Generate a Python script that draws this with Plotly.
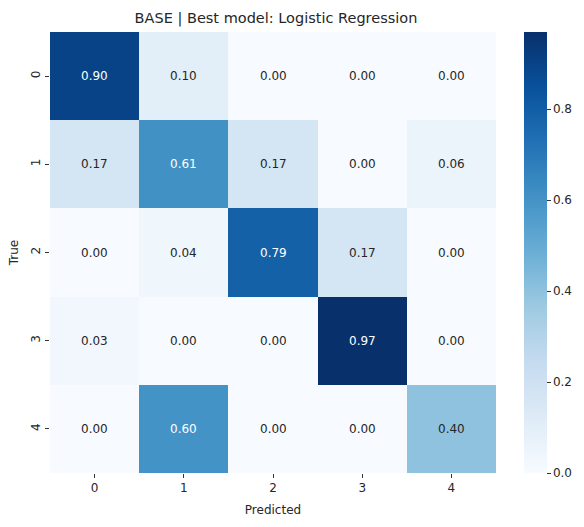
import plotly.graph_objects as go
import plotly.express as px

# Confusion matrix (row-normalised) for the best base model
classes = ["0", "1", "2", "3", "4"]
matrix = [
    [0.90, 0.10, 0.00, 0.00, 0.00],
    [0.17, 0.61, 0.17, 0.00, 0.06],
    [0.00, 0.04, 0.79, 0.17, 0.00],
    [0.03, 0.00, 0.00, 0.97, 0.00],
    [0.00, 0.60, 0.00, 0.00, 0.40],
]
cbar_ticks = [0.0, 0.2, 0.4, 0.6, 0.8]

blues = px.colors.sequential.Blues
zmin = min(min(r) for r in matrix)
zmax = max(max(r) for r in matrix)
FONT = "DejaVu Sans"


def parse_rgb(s):
    return [int(v) for v in s[s.index("(") + 1:s.index(")")].split(",")]


def colour_at(v):
    t = (v - zmin) / (zmax - zmin)
    n = len(blues) - 1
    i = min(int(t * n), n - 1)
    f = t * n - i
    a, b = parse_rgb(blues[i]), parse_rgb(blues[i + 1])
    return [a[k] + (b[k] - a[k]) * f for k in range(3)]


def luminance(rgb):
    def lin(c):
        c = c / 255
        return c / 12.92 if c <= 0.03928 else ((c + 0.055) / 1.055) ** 2.4
    r, g, b = (lin(c) for c in rgb)
    return 0.2126 * r + 0.7152 * g + 0.0722 * b


fig = go.Figure(
    go.Heatmap(
        z=matrix,
        x=classes,
        y=classes,
        colorscale=[[i / (len(blues) - 1), c] for i, c in enumerate(blues)],
        zmin=zmin,
        zmax=zmax,
        xgap=0,
        ygap=0,
        colorbar=dict(
            tickvals=cbar_ticks,
            ticktext=[f"{v:.1f}" for v in cbar_ticks],
            ticks="outside",
            ticklen=4,
            tickcolor="#333333",
            tickfont=dict(family=FONT, size=12, color="#262626"),
            outlinewidth=0,
            thickness=23,
            len=1.0,
            lenmode="fraction",
            x=1.062,
            xanchor="left",
            y=0.5,
            yanchor="middle",
            xpad=0,
            ypad=0,
        ),
        hoverinfo="skip",
    )
)

annotations = []
for i, row in enumerate(matrix):
    for j, v in enumerate(row):
        colour = "white" if luminance(colour_at(v)) < 0.408 else "#262626"
        annotations.append(
            dict(
                x=classes[j],
                y=classes[i],
                text=f"{v:.2f}",
                showarrow=False,
                font=dict(family=FONT, size=12, color=colour),
            )
        )

fig.update_layout(
    width=584,
    height=527,
    margin=dict(l=50, r=82, t=32, b=39),
    paper_bgcolor="white",
    plot_bgcolor="white",
    font=dict(family=FONT, size=12, color="#262626"),
    title=dict(
        text="BASE | Best model: Logistic Regression",
        x=(50 + 502) / 2 / 584,
        xanchor="center",
        y=1 - 18 / 527,
        yanchor="middle",
        font=dict(family=FONT, size=14.5, color="#262626"),
    ),
    annotations=annotations,
    xaxis=dict(
        title=dict(text="Predicted", standoff=11, font=dict(size=12)),
        ticks="outside",
        ticklen=4,
        tickcolor="#333333",
        showgrid=False,
        zeroline=False,
        showline=False,
    ),
    yaxis=dict(
        title=dict(text="True", standoff=8, font=dict(size=12)),
        autorange="reversed",
        ticks="outside",
        ticklen=4,
        tickcolor="#333333",
        tickangle=-90,
        showgrid=False,
        zeroline=False,
        showline=False,
    ),
)

fig.write_html("out.html")
